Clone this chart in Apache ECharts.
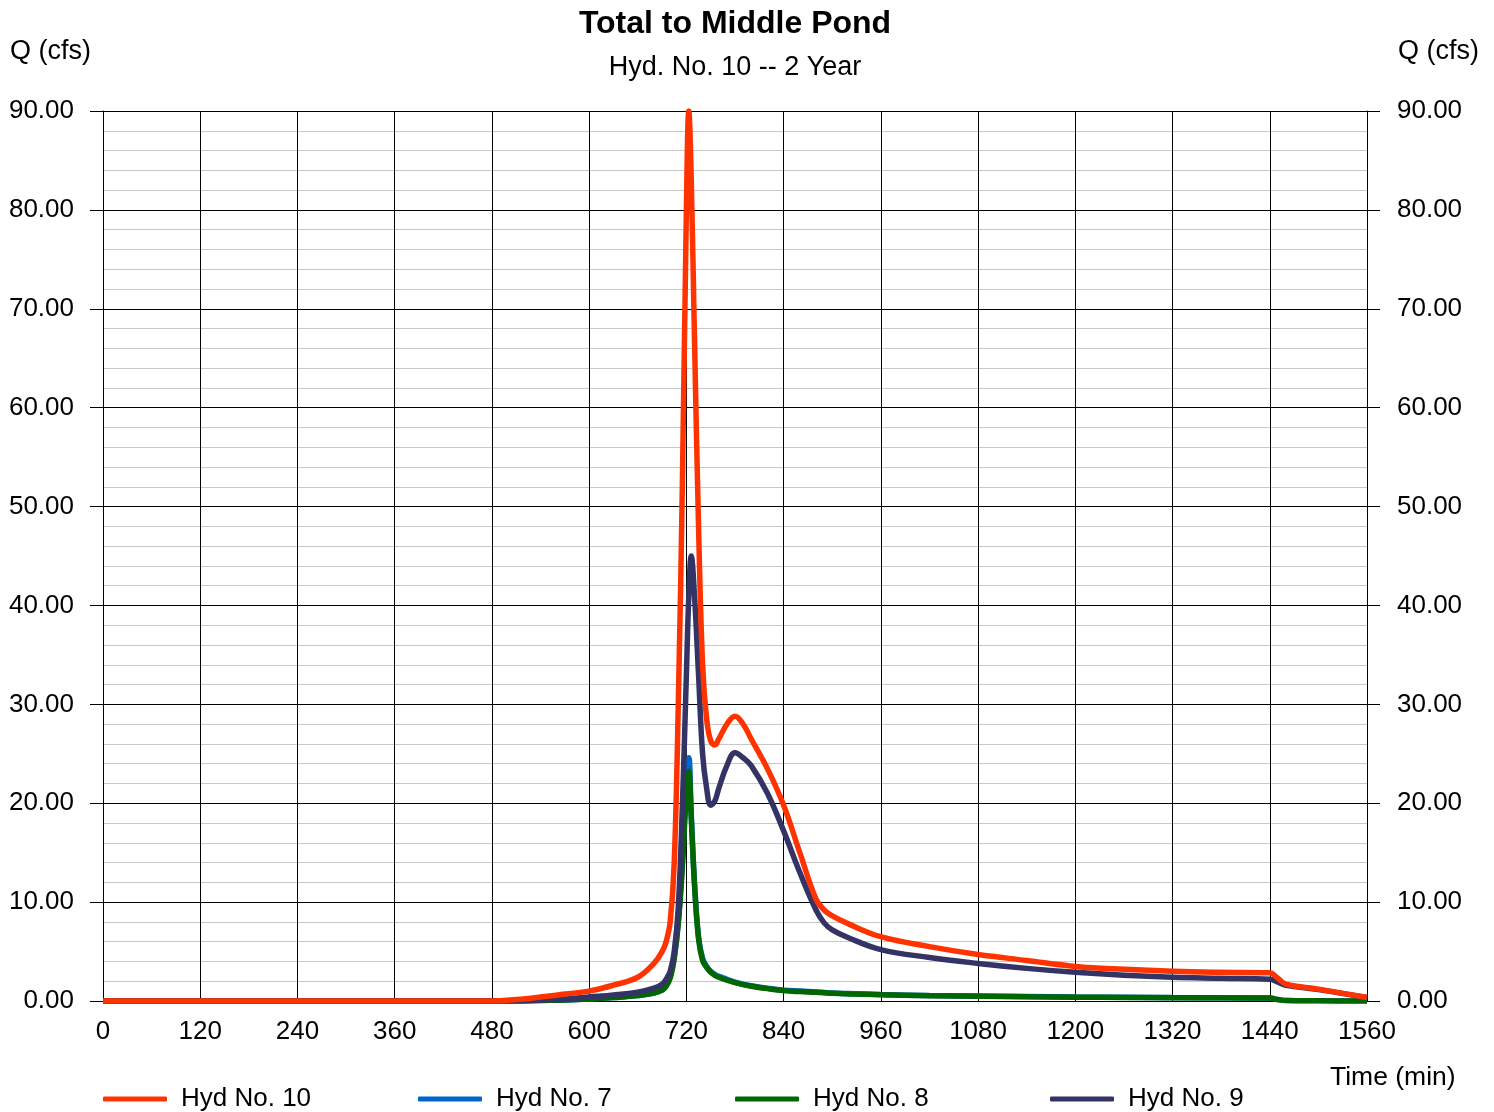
<!DOCTYPE html>
<html>
<head>
<meta charset="utf-8">
<script src="https://cdn.jsdelivr.net/npm/echarts@6/dist/echarts.min.js"></script>
<style>
  html,body{margin:0;padding:0;background:#fff;}
  #main{width:1494px;height:1112px;}
</style>
</head>
<body>
<div id="main"></div>
<script>
var times = [0, 480, 510, 540, 570, 600, 630, 660, 680, 690, 695, 700, 705, 710, 715, 720, 723, 726, 730, 735, 740, 745, 750, 755, 760, 770, 780, 790, 800, 820, 840, 860, 880, 890, 900, 920, 960, 1020, 1080, 1140, 1200, 1260, 1320, 1380, 1440, 1450, 1460, 1500, 1560];
var hyd10 = [0, 0, 0.15, 0.4, 0.7, 1.0, 1.6, 2.4, 3.8, 5.0, 6.0, 8.0, 14, 30, 52, 80, 90, 83, 67, 48, 34, 28.5, 26.3, 25.9, 26.5, 28, 28.8, 28, 26.5, 23.5, 19.8, 15, 10.3, 9.2, 8.6, 7.8, 6.5, 5.5, 4.7, 4.1, 3.5, 3.2, 3.0, 2.9, 2.85, 2.3, 1.7, 1.2, 0.35];
var hyd7 = [0, 0, 0, 0.05, 0.1, 0.2, 0.35, 0.55, 0.8, 1.1, 1.5, 2.5, 4.5, 8, 14, 22, 24.6, 19, 12, 6.5, 4.3, 3.5, 3.0, 2.7, 2.5, 2.2, 1.9, 1.7, 1.55, 1.3, 1.1, 1.0, 0.9, 0.85, 0.8, 0.75, 0.65, 0.55, 0.5, 0.45, 0.4, 0.38, 0.35, 0.33, 0.3, 0.15, 0.05, 0.02, 0];
var hyd8 = [0, 0, 0, 0.05, 0.1, 0.2, 0.35, 0.55, 0.8, 1.1, 1.5, 2.3, 4.3, 7.8, 13.5, 21, 23.2, 18.5, 11.8, 6.3, 4.1, 3.4, 2.9, 2.6, 2.4, 2.1, 1.85, 1.65, 1.5, 1.25, 1.05, 0.95, 0.88, 0.83, 0.78, 0.72, 0.63, 0.53, 0.48, 0.43, 0.39, 0.36, 0.34, 0.32, 0.3, 0.15, 0.05, 0.02, 0];
var hyd9 = [0, 0, 0.02, 0.1, 0.2, 0.4, 0.6, 0.9, 1.3, 1.7, 2.2, 3.0, 5.0, 9.5, 19.6, 33, 41, 45, 41, 33, 25, 21.5, 19.8, 20.2, 21.5, 23.8, 25.1, 24.6, 23.8, 21, 17.2, 13, 9.2, 7.9, 7.2, 6.4, 5.2, 4.4, 3.8, 3.3, 2.9, 2.6, 2.4, 2.3, 2.2, 1.9, 1.6, 1.15, 0.35];
var seriesNames = ['Hyd No. 10', 'Hyd No. 7', 'Hyd No. 8', 'Hyd No. 9'];
var seriesColors = ['#ff3300', '#0066cc', '#006600', '#333366'];

function pairs(vals){
  var out = [];
  for(var i=0;i<times.length;i++){
    out.push([times[i], vals[i]]);
  }
  return out;
}

var font = 'Liberation Sans, Arial, sans-serif';
var allData = [hyd10, hyd7, hyd8, hyd9];
var zs = [5, 2, 3, 4];
var series = [];
for(var i=0;i<allData.length;i++){
  series.push({
    name: seriesNames[i],
    type: 'line',
    data: pairs(allData[i]),
    smooth: 0.4,
    showSymbol: false,
    z: zs[i],
    lineStyle: {color: seriesColors[i], width: 5.5},
    itemStyle: {color: seriesColors[i]}
  });
}

var legends = [];
var legendLeft = [103, 418, 735, 1050];
for(var i=0;i<seriesNames.length;i++){
  legends.push({
    data: [seriesNames[i]],
    left: legendLeft[i],
    top: 1086,
    icon: 'roundRect',
    itemWidth: 64,
    itemHeight: 5,
    padding: 0,
    textStyle: {fontFamily: font, fontSize: 26, color: '#000', padding: [0,0,0,9]}
  });
}

var myChart = echarts.init(document.getElementById('main'));
var option = {
  backgroundColor: '#fff',
  animation: false,
  legend: legends,
  graphic: [
    {type: 'text', x: 735, y: 24, style: {text: 'Total to Middle Pond', font: 'bold 32px ' + font, fill: '#000', align: 'center', verticalAlign: 'middle'}},
    {type: 'text', x: 735, y: 68, style: {text: 'Hyd. No. 10 -- 2 Year', font: '27px ' + font, fill: '#000', align: 'center', verticalAlign: 'middle'}},
    {type: 'text', x: 10, y: 52, style: {text: 'Q (cfs)', font: '27px ' + font, fill: '#000', verticalAlign: 'middle'}},
    {type: 'text', x: 1398, y: 52, style: {text: 'Q (cfs)', font: '27px ' + font, fill: '#000', verticalAlign: 'middle'}},
    {type: 'text', x: 1330, y: 1078, style: {text: 'Time (min)', font: '26.5px ' + font, fill: '#000', verticalAlign: 'middle'}}
  ],
  grid: {left: 103, right: 127, top: 111, bottom: 111, containLabel: false},
  xAxis: {
    type: 'value',
    min: 0,
    max: 1560,
    interval: 120,
    axisLine: {show: true, lineStyle: {color: '#000', width: 1}},
    axisTick: {show: false},
    axisLabel: {fontFamily: font, fontSize: 26, color: '#000', margin: 18, formatter: function(v){return String(v);}},
    splitLine: {show: true, lineStyle: {color: '#000', width: 1}}
  },
  yAxis: [
    {
      type: 'value',
      min: 0,
      max: 90,
      interval: 10,
      position: 'left',
      axisLine: {show: true, lineStyle: {color: '#000', width: 1}},
      axisTick: {show: true, length: 13, lineStyle: {color: '#000'}},
      minorTick: {show: false, splitNumber: 5},
      minorSplitLine: {show: true, lineStyle: {color: '#c8c8c8', width: 1}},
      axisLabel: {fontFamily: font, fontSize: 26, color: '#000', margin: 29, formatter: function(v){return v.toFixed(2);}},
      splitLine: {show: true, lineStyle: {color: '#000', width: 1}}
    },
    {
      type: 'value',
      min: 0,
      max: 90,
      interval: 10,
      position: 'right',
      axisLine: {show: true, lineStyle: {color: '#000', width: 1}},
      axisTick: {show: true, length: 13, lineStyle: {color: '#000'}},
      axisLabel: {fontFamily: font, fontSize: 26, color: '#000', margin: 30, formatter: function(v){return v.toFixed(2);}},
      splitLine: {show: false}
    }
  ],
  series: series
};
myChart.setOption(option);
</script>
</body>
</html>
